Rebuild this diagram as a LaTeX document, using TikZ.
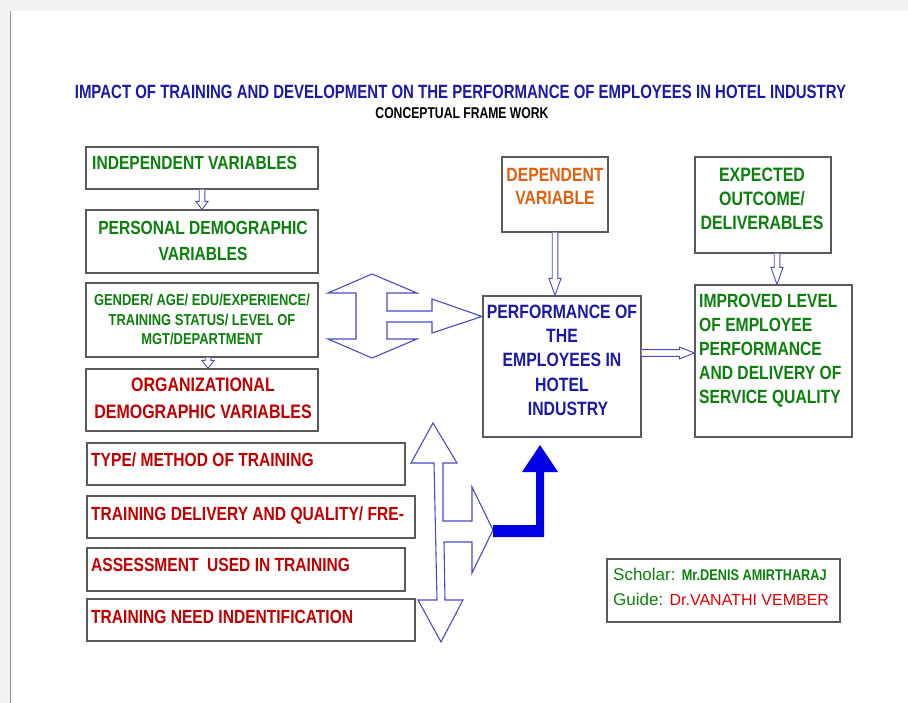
\documentclass[tikz,border=0pt]{standalone}
\usepackage{fontspec}
\setmainfont{Liberation Sans}
\newfontfamily\narf[FakeStretch=0.82]{Liberation Sans}
\newfontfamily\titf[FakeStretch=0.78]{Liberation Sans}
\usetikzlibrary{calc,fit}
\definecolor{tblue}{HTML}{1A1AA8}
\definecolor{tgreen}{HTML}{0C7F0C}
\definecolor{tred}{HTML}{C00000}
\definecolor{tbred}{HTML}{E00000}
\definecolor{torange}{HTML}{E06010}
\definecolor{ablue}{HTML}{4A4AC8}
\definecolor{bblue}{HTML}{0000E6}
\definecolor{frame}{HTML}{5A5A5A}
\newcommand\fs[2]{\fontsize{#1}{#2}\selectfont}
% hollow vertical arrow from #2 down to #3, head length #1
\newcommand\hollowv[3][14]{\draw[hol] let \p1=#2, \p2=#3 in
  (\x1-2.8pt,\y1) -- (\x1-2.8pt,\y2+#1pt) -- (\x1-6pt,\y2+#1pt) -- (\x1,\y2)
  -- (\x1+6pt,\y2+#1pt) -- (\x1+2.8pt,\y2+#1pt) -- (\x1+2.8pt,\y1);}
% hollow horizontal arrow from #2 right to #3, head length #1
\newcommand\hollowh[3][15]{\draw[hol] let \p1=#2, \p2=#3 in
  (\x1,\y1+3.4pt) -- (\x2-#1pt,\y1+3.4pt) -- (\x2-#1pt,\y1+6pt) -- (\x2,\y1)
  -- (\x2-#1pt,\y1-6pt) -- (\x2-#1pt,\y1-3.4pt) -- (\x1,\y1-3.4pt);}
\begin{document}
\begin{tikzpicture}[x=1pt,y=-1pt,
  box/.style={draw=frame, line width=1.1pt, fill=white, inner sep=0pt},
  lab/.style={inner sep=0pt},
  nb/.style={font={\narf\bfseries\fs{19}{24}}},
  hol/.style={draw=ablue, line width=0.9pt, fill=white, line join=miter},
  bigh/.style={draw=ablue, line width=1.1pt, fill=white, line join=miter}]
\useasboundingbox (0,0) rectangle (908,703);
% page background
\fill[white] (0,0) rectangle (908,703);
\fill[black!5] (0,0) rectangle (908,11);
\fill[black!5] (0,11) rectangle (10,703);
\draw[black!40, line width=0.8pt] (10,11) -- (10,703);

% titles
\node[lab, text=tblue, anchor=base, font={\titf\bfseries\fs{19.2}{22}}] (title) at (460.5,99)
  {IMPACT OF TRAINING AND DEVELOPMENT ON THE PERFORMANCE OF EMPLOYEES IN HOTEL INDUSTRY};
\node[lab, anchor=base, font={\titf\bfseries\fs{15.6}{18}}] (subtitle) at (462,118.5)
  {CONCEPTUAL FRAME WORK};

% left column boxes
\node[box, fit={(86,147) (318,189)}] (indep) {};
\node[box, fit={(86,210) (318,273)}] (pers) {};
\node[box, fit={(86,283) (318,357)}] (gender) {};
\node[box, fit={(86,369) (318,431)}] (org) {};
\node[box, fit={(87,443) (405,485)}] (type) {};
\node[box, fit={(87,496) (415,538)}] (deliv) {};
\node[box, fit={(87,548) (405,591)}] (assess) {};
\node[box, fit={(87,599) (415,641)}] (need) {};
% right boxes
\node[box, fit={(502,157) (608,232)}] (dep) {};
\node[box, fit={(695,157) (831,253)}] (exp) {};
\node[box, fit={(483,296) (641,437)}] (perf) {};
\node[box, fit={(695,285) (852,437)}] (impr) {};
\node[box, fit={(607,559) (840,622)}] (sch) {};

% texts
\node[lab, nb, text=tgreen, anchor=base west] (indeptx) at (92,169.5) {INDEPENDENT VARIABLES};
\node[lab, text=tgreen, anchor=north, align=center, font={\narf\bfseries\fs{19}{26.4}}] (perstx) at (203,220.7)
  {PERSONAL DEMOGRAPHIC\\VARIABLES};
\node[lab, text=tgreen, anchor=north, align=center, font={\narf\bfseries\fs{15.8}{19.5}}] (gendertx) at (202,293.9)
  {GENDER/ AGE/ EDU/EXPERIENCE/\\TRAINING STATUS/ LEVEL OF\\MGT/DEPARTMENT};
\node[lab, text=tred, anchor=north, align=center, font={\narf\bfseries\fs{19.5}{26.6}}] (orgtx) at (203,377.7)
  {ORGANIZATIONAL\\DEMOGRAPHIC VARIABLES};
\node[lab, nb, text=tred, anchor=base west] (typetx) at (91,466) {TYPE/ METHOD OF TRAINING};
\node[lab, nb, text=tred, anchor=base west] (delivtx) at (91,520) {TRAINING DELIVERY AND QUALITY/ FRE-};
\node[lab, nb, text=tred, anchor=base west] (assesstx) at (91,571.7) {ASSESSMENT\ \ USED IN TRAINING};
\node[lab, nb, text=tred, anchor=base west] (needtx) at (91,623) {TRAINING NEED INDENTIFICATION};

\node[lab, text=torange, anchor=north, align=center, font={\narf\bfseries\fs{19.2}{22.7}}] (deptx) at (555,168.5)
  {DEPENDENT\\VARIABLE};
\node[lab, text=tgreen, anchor=north, align=center, font={\narf\bfseries\fs{19.4}{24}}] (exptx) at (762,168)
  {EXPECTED\\OUTCOME/\\DELIVERABLES};
\node[lab, text=tblue, anchor=north, align=center, font={\narf\bfseries\fs{19.3}{24.3}}] (perftx) at (562,304.5)
  {PERFORMANCE OF\\THE\\EMPLOYEES IN\\HOTEL\\\hspace*{12pt}INDUSTRY};
\node[lab, text=tgreen, anchor=north west, align=left, font={\narf\bfseries\fs{19.1}{24}}] (imprtx) at (699,294.3)
  {IMPROVED LEVEL\\OF EMPLOYEE\\PERFORMANCE\\AND DELIVERY OF\\SERVICE QUALITY};
\node[lab, text=tgreen, anchor=north west, align=left, font={\fs{17}{25}}] (schtx) at (613,567.8)
  {Scholar: {\narf\bfseries\fs{15.5}{25}Mr.DENIS AMIRTHARAJ}\\Guide: {\color{tbred}\fs{16}{25}Dr.VANATHI VEMBER}};

% small hollow connectors
\hollowv[8]{(indep.south)}{(pers.north)}
\hollowv[8]{([xshift=6pt]gender.south)}{([xshift=6pt]gender.south |- org.north)}
\hollowv[17]{(dep.south)}{(dep.south |- perf.north)}
\hollowv[17]{([xshift=14pt]exp.south)}{([xshift=14pt]exp.south |- impr.north)}
\hollowh[15]{([yshift=13.5pt]perf.east)}{([yshift=13.5pt]perf.east -| impr.west)}

% big hollow double arrow (upper)
\draw[bigh] (372,274) -- (417,293) -- (387,293) -- (387,311) -- (432,311) -- (432,299)
  -- (482,316.5) -- (432,333) -- (432,322) -- (387,322) -- (387,339) -- (417,339)
  -- (372,358) -- (328,339) -- (356,339) -- (356,293) -- (328,293) -- cycle;
% big hollow double arrow (lower)
\draw[bigh] (433,423) -- (457,463) -- (443,463) -- (443,521) -- (472,521) -- (472,487)
  -- (493,530) -- (472,573) -- (472,542) -- (444,542) -- (445,600) -- (463,600)
  -- (441,642) -- (418,600) -- (437,600) -- (434,463) -- (411,463) -- cycle;
% solid blue arrow into performance box
\fill[bblue] (493,525) -- (536,525) -- (536,472) -- (522,472) -- (540,445) -- (558,472)
  -- (544,472) -- (544,537) -- (493,537) -- cycle;
\end{tikzpicture}
\end{document}
